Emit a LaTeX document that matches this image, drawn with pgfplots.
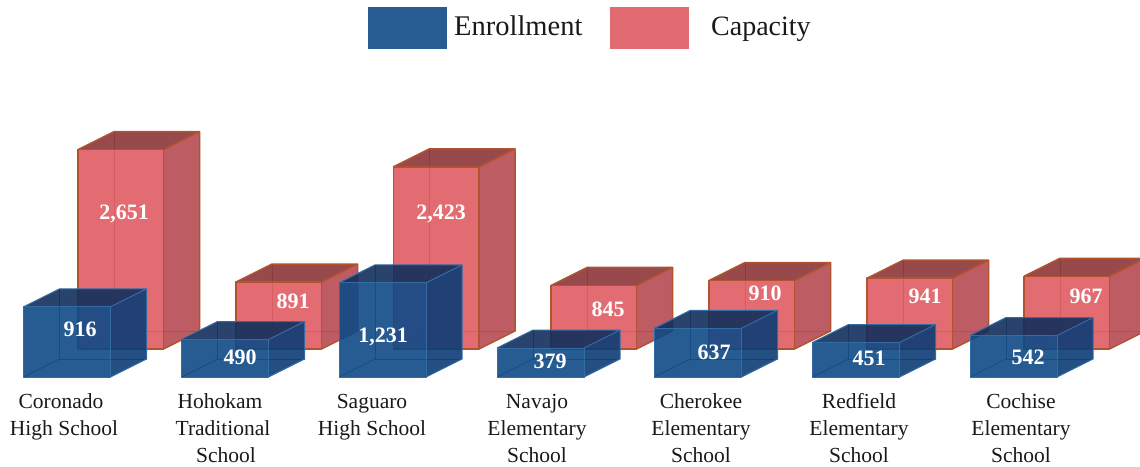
\documentclass[border=0pt]{standalone}
\usepackage{fontspec}
\setmainfont{Liberation Serif}
\usepackage{pgfplots}
\pgfplotsset{compat=1.18}

\definecolor{enrswatch}{HTML}{265C92}
\definecolor{capswatch}{HTML}{E16B70}
\definecolor{enrfront}{HTML}{0E4A86}
\definecolor{enrside}{HTML}{0C3C75}
\definecolor{enrtop}{HTML}{122F5C}
\definecolor{capfront}{HTML}{E06166}
\definecolor{capside}{HTML}{B95057}
\definecolor{captop}{HTML}{8F3B3D}
\definecolor{capedge}{HTML}{B0532F}
\definecolor{enredge}{HTML}{336CA3}
\definecolor{capfar}{HTML}{782D32}
\definecolor{enrfar}{HTML}{0A285A}
\tikzset{
  capline/.style={draw=capedge,line width=1.5pt,line join=round},
  enrline/.style={draw=enredge,line width=1pt,line join=round},
  caphidden/.style={draw=capfar,line width=1pt},
  enrhidden/.style={draw=enrfar,line width=.8pt,opacity=.7},
}

% x, base (pixels), value, pixels per unit, colour prefix, opacity, front width
\newcommand{\solidbox}[7]{%
  \pgfmathsetmacro{\xa}{#1}
  \pgfmathsetmacro{\xb}{#1+#7}
  \pgfmathsetmacro{\xc}{#1+36}
  \pgfmathsetmacro{\xd}{#1+#7+36}
  \pgfmathsetmacro{\ya}{#2}
  \pgfmathsetmacro{\yb}{#2-#3*#4}
  \pgfmathsetmacro{\yc}{#2-18}
  \pgfmathsetmacro{\yd}{#2-18-#3*#4}
  % far edges, seen through the faces
  \addplot[#5hidden] coordinates {(\xc,\yd) (\xc,\yc) (\xd,\yc)};
  \addplot[#5hidden] coordinates {(\xa,\ya) (\xc,\yc)};
  \addplot[draw=none,fill=#5side,fill opacity=#6]
    coordinates {(\xb,\ya) (\xd,\yc) (\xd,\yd) (\xb,\yb)} -- cycle;
  \addplot[draw=none,fill=#5top,fill opacity=#6]
    coordinates {(\xa,\yb) (\xb,\yb) (\xd,\yd) (\xc,\yd)} -- cycle;
  \addplot[draw=none,fill=#5front,fill opacity=#6]
    coordinates {(\xa,\ya) (\xb,\ya) (\xb,\yb) (\xa,\yb)} -- cycle;
  % visible edges
  \addplot[#5line] coordinates {(\xa,\ya) (\xb,\ya) (\xb,\yb) (\xa,\yb)} -- cycle;
  \addplot[#5line] coordinates {(\xa,\yb) (\xc,\yd) (\xd,\yd) (\xb,\yb)};
  \addplot[#5line] coordinates {(\xd,\yd) (\xd,\yc) (\xb,\ya)};
}
\newcommand{\capbox}[2]{\solidbox{#1}{349}{#2}{0.0752}{cap}{0.93}{85.5}}
\newcommand{\enrbox}[2]{\solidbox{#1}{377}{#2}{0.0765}{enr}{0.9}{87}}
\newcommand{\vallab}[3]{\node[anchor=base,text=white,font=\fontsize{22}{24}\selectfont\bfseries] at (axis cs:#1,#2+7.5) {#3};}
\newcommand{\catlab}[3]{\node[anchor=base,text=black!90,font=\fontsize{21.5}{24}\selectfont] at (axis cs:#1,#2) {#3};}

\begin{document}
\begin{tikzpicture}
\begin{axis}[
  scale only axis,
  width=1140pt,height=466pt,
  xmin=0,xmax=1140,ymin=0,ymax=466,
  y dir=reverse,
  hide axis,
  clip=true,
]
% keeps the page at the full axis size
\path (axis cs:0,0) rectangle (axis cs:1140,466);
% capacity
\capbox{78}{2651}
\capbox{236}{891}
\capbox{393.5}{2423}
\capbox{551}{845}
\capbox{709}{910}
\capbox{867}{941}
\capbox{1024}{967}
% enrollment
\enrbox{23.5}{916}
\enrbox{181.5}{490}
\enrbox{339}{1231}
\enrbox{497}{379}
\enrbox{654.5}{637}
\enrbox{812.5}{451}
\enrbox{970}{542}
% legend swatches
\addplot[draw=none,fill=enrswatch] coordinates {(368,7) (447,7) (447,49) (368,49)} -- cycle;
\addplot[draw=none,fill=capswatch] coordinates {(610,7) (689,7) (689,49) (610,49)} -- cycle;
\node[anchor=base west,inner sep=0pt,text=black!90,font=\fontsize{28.5}{30}\selectfont] at (axis cs:454,35) {Enrollment};
\node[anchor=base west,inner sep=0pt,text=black!90,font=\fontsize{28}{30}\selectfont] at (axis cs:711,35) {Capacity};
% values
\vallab{124}{212}{2,651}
\vallab{293}{301}{891}
\vallab{441}{212}{2,423}
\vallab{608}{309}{845}
\vallab{765}{293}{910}
\vallab{925}{296}{941}
\vallab{1086}{296}{967}
\vallab{80}{329}{916}
\vallab{240}{357}{490}
\vallab{383}{335}{1,231}
\vallab{550}{361}{379}
\vallab{714}{352}{637}
\vallab{869}{358}{451}
\vallab{1028}{357}{542}
% school names
\catlab{61}{408}{Coronado}
\catlab{64}{435}{High School}
\catlab{220}{408}{Hohokam}
\catlab{223}{435}{Traditional}
\catlab{226}{462}{School}
\catlab{372}{408}{Saguaro}
\catlab{372}{435}{High School}
\catlab{537}{408}{Navajo}
\catlab{537}{435}{Elementary}
\catlab{537}{462}{School}
\catlab{701}{408}{Cherokee}
\catlab{701}{435}{Elementary}
\catlab{701}{462}{School}
\catlab{859}{408}{Redfield}
\catlab{859}{435}{Elementary}
\catlab{859}{462}{School}
\catlab{1021}{408}{Cochise}
\catlab{1021}{435}{Elementary}
\catlab{1021}{462}{School}
\end{axis}
\end{tikzpicture}
\end{document}
